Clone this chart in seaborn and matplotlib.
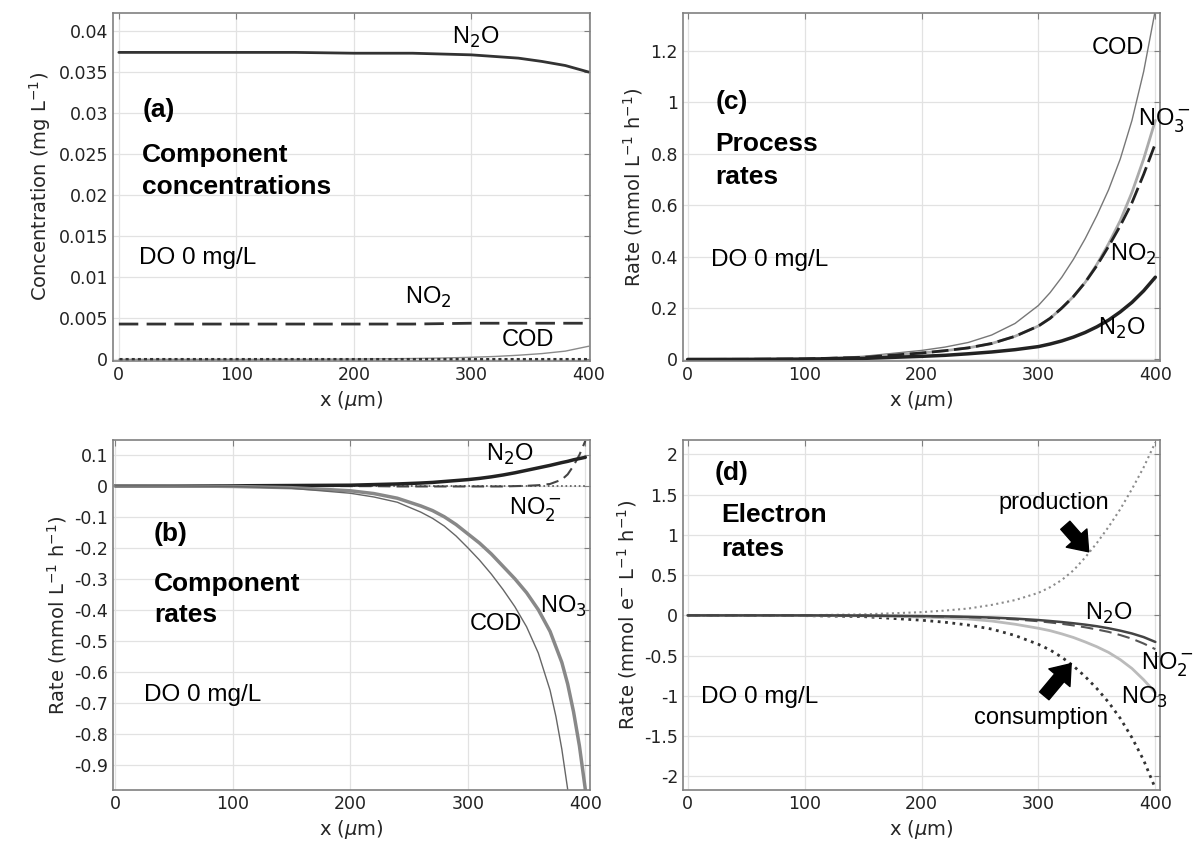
import matplotlib
matplotlib.use("Agg")
import matplotlib.pyplot as plt
from matplotlib.ticker import FuncFormatter
import seaborn as sns

# (a) component concentrations
xa = [0, 50, 100, 150, 200, 250, 275, 300, 320, 340, 360, 380, 390, 400]
a_n2o = [0.0374, 0.0374, 0.0374, 0.0374, 0.0373, 0.0373, 0.0372, 0.0371, 0.0369, 0.0367, 0.0363, 0.0358, 0.0354, 0.0350]
a_no2 = [0.0043, 0.0043, 0.0043, 0.0043, 0.0043, 0.0043, 0.00435, 0.0044, 0.0044, 0.0044, 0.0044, 0.0044, 0.0044, 0.0044]
a_cod = [0.0, 0.0, 0.0, 0.0, 0.00003, 0.0001, 0.00016, 0.00025, 0.00035, 0.0005, 0.0007, 0.001, 0.0013, 0.0016]
a_zero = [0.0, 0.0, 0.0, 0.0, 0.0, 0.0, 0.0, 0.0, 0.0, 0.0, 0.0, 0.0, 0.0, 0.0]

# (c) process rates
xc = [0, 50, 100, 150, 200, 220, 240, 260, 280, 300, 310, 320, 330, 340, 350, 360, 370, 380, 390, 400]
c_cod = [0.0, 0.001, 0.003, 0.012, 0.035, 0.048, 0.066, 0.095, 0.14, 0.21, 0.26, 0.32, 0.39, 0.47, 0.56, 0.66, 0.78, 0.93, 1.12, 1.36]
c_no3 = [0.0, 0.0005, 0.002, 0.008, 0.025, 0.034, 0.045, 0.062, 0.09, 0.13, 0.16, 0.2, 0.245, 0.3, 0.37, 0.45, 0.54, 0.65, 0.78, 0.93]
c_no2 = [0.0, 0.0005, 0.002, 0.008, 0.025, 0.034, 0.045, 0.062, 0.09, 0.13, 0.16, 0.2, 0.245, 0.3, 0.365, 0.44, 0.52, 0.61, 0.72, 0.84]
c_n2o = [0.0, 0.0002, 0.001, 0.004, 0.012, 0.016, 0.022, 0.029, 0.038, 0.05, 0.06, 0.072, 0.087, 0.105, 0.127, 0.153, 0.185, 0.222, 0.267, 0.32]

# (b) component rates
xb = [0, 50, 100, 150, 200, 220, 240, 260, 270, 280, 290, 300, 310, 320, 330, 340, 350, 360, 370, 380, 385, 390, 395, 400]
b_n2o = [0.0, 0.0, 0.0, 0.001, 0.002, 0.004, 0.006, 0.009, 0.011, 0.014, 0.017, 0.02, 0.024, 0.029, 0.035, 0.042, 0.05, 0.058, 0.066, 0.075, 0.079, 0.084, 0.088, 0.092]
b_no2 = [0.0, 0.0, 0.0, 0.0, -0.001, -0.001, -0.002, -0.002, -0.002, -0.002, -0.002, -0.002, -0.002, -0.002, -0.002, -0.001, 0.0, 0.002, 0.006, 0.02, 0.037, 0.065, 0.1, 0.145]
b_zero = [0.0, 0.0, 0.0, 0.0, 0.0, 0.0, 0.0, 0.0, 0.0, 0.0, 0.0, 0.0, 0.0, 0.0, 0.0, 0.0, 0.0, 0.0, 0.0, 0.0, 0.0, 0.0, 0.0, 0.0]
b_no3 = [0.0, 0.0, -0.002, -0.006, -0.016, -0.025, -0.04, -0.065, -0.08, -0.1, -0.125, -0.155, -0.185, -0.22, -0.26, -0.3, -0.345, -0.4, -0.47, -0.57, -0.64, -0.73, -0.84, -0.98]
xb_cod = [0, 50, 100, 150, 200, 220, 240, 260, 270, 280, 290, 300, 310, 320, 330, 340, 350, 360, 370, 375, 380, 385]
b_cod = [0.0, 0.0, -0.002, -0.008, -0.024, -0.036, -0.053, -0.085, -0.105, -0.13, -0.162, -0.2, -0.24, -0.285, -0.335, -0.39, -0.455, -0.54, -0.66, -0.745, -0.85, -0.98]

# (d) electron rates
xd = [0, 50, 100, 150, 200, 220, 240, 260, 280, 300, 310, 320, 330, 340, 350, 360, 370, 380, 390, 400]
d_prod = [0.0, 0.0, 0.002, 0.012, 0.04, 0.06, 0.085, 0.13, 0.19, 0.28, 0.35, 0.44, 0.56, 0.72, 0.9, 1.1, 1.32, 1.57, 1.84, 2.15]
d_cons = [0.0, 0.0, -0.003, -0.015, -0.06, -0.085, -0.12, -0.17, -0.25, -0.36, -0.43, -0.52, -0.63, -0.76, -0.91, -1.08, -1.28, -1.52, -1.8, -2.15]
d_n2o = [0.0, 0.0, 0.0, -0.002, -0.008, -0.012, -0.018, -0.027, -0.04, -0.058, -0.07, -0.083, -0.098, -0.115, -0.135, -0.16, -0.19, -0.225, -0.27, -0.33]
d_no2 = [0.0, 0.0, 0.0, -0.003, -0.01, -0.015, -0.022, -0.033, -0.05, -0.073, -0.088, -0.105, -0.125, -0.148, -0.175, -0.205, -0.245, -0.29, -0.35, -0.42]
d_no3 = [0.0, 0.0, -0.001, -0.005, -0.02, -0.03, -0.045, -0.07, -0.11, -0.16, -0.19, -0.23, -0.275, -0.33, -0.39, -0.46, -0.55, -0.66, -0.8, -0.96]

sns.set_style("white")
plt.rcParams["font.family"] = ["DejaVu Sans"]
plt.rcParams["axes.unicode_minus"] = False

fig = plt.figure(figsize=(11.98, 8.44), dpi=100)
ax_a = fig.add_axes([0.0943, 0.5723, 0.3982, 0.4123])
ax_c = fig.add_axes([0.5701, 0.5723, 0.3982, 0.4123])
ax_b = fig.add_axes([0.0943, 0.0640, 0.3982, 0.4147])
ax_d = fig.add_axes([0.5701, 0.0640, 0.3982, 0.4147])

LAB = "Liberation Sans"


def style(ax, xlim, ylim, yticks, ylabel):
    ax.set_xlim(xlim)
    ax.set_ylim(ylim)
    ax.set_xticks([0, 100, 200, 300, 400])
    ax.set_yticks(yticks)
    ax.yaxis.set_major_formatter(FuncFormatter(lambda v, p: f"{v:g}"))
    ax.grid(True, color="#e2e2e2", lw=0.9)
    ax.set_axisbelow(True)
    for s in ax.spines.values():
        s.set_color("#808080")
        s.set_linewidth(1.2)
    ax.tick_params(direction="in", length=4, color="#808080", top=True, right=True,
                   labelsize=12.5, labelcolor="#222222")
    ax.set_xlabel("x ($\\mu$m)", fontsize=14)
    ax.set_ylabel(ylabel, fontsize=14)


def txt(ax, x, y, s, size=17, bold=False, ha="left"):
    ax.text(x, y, s, fontsize=size, family=LAB, fontweight="bold" if bold else "normal",
            ha=ha, va="center", color="black")


# ---- (a)
sns.lineplot(x=xa, y=a_n2o, ax=ax_a, color="#333333", lw=2)
sns.lineplot(x=xa, y=a_no2, ax=ax_a, color="#333333", lw=2, linestyle=(0, (7, 3)))
sns.lineplot(x=xa, y=a_cod, ax=ax_a, color="#8a8a8a", lw=1)
sns.lineplot(x=xa, y=a_zero, ax=ax_a, color="#333333", lw=2.2, linestyle=(0, (1, 1)))
style(ax_a, (-5, 401), (-0.0002, 0.0422),
      [0, 0.005, 0.01, 0.015, 0.02, 0.025, 0.03, 0.035, 0.04], "Concentration (mg L$^{-1}$)")
txt(ax_a, 20, 0.0304, "(a)", 19, True)
txt(ax_a, 20, 0.0249, "Component", 19, True)
txt(ax_a, 20, 0.0210, "concentrations", 19, True)
txt(ax_a, 17, 0.0123, "DO 0 mg/L", 17.5)
txt(ax_a, 304, 0.0392, "N$_2$O", ha="center")
txt(ax_a, 263, 0.0076, "NO$_2$", ha="center")
txt(ax_a, 348, 0.0023, "COD", ha="center")

# ---- (c)
sns.lineplot(x=xc, y=c_cod, ax=ax_c, color="#777777", lw=1)
sns.lineplot(x=xc, y=c_no3, ax=ax_c, color="#aaaaaa", lw=2)
sns.lineplot(x=xc, y=c_no2, ax=ax_c, color="#222222", lw=2, linestyle=(0, (6, 2)))
sns.lineplot(x=xc, y=c_n2o, ax=ax_c, color="#222222", lw=2.5)
style(ax_c, (-4, 404), (-0.006, 1.348), [0, 0.2, 0.4, 0.6, 0.8, 1, 1.2],
      "Rate (mmol L$^{-1}$ h$^{-1}$)")
txt(ax_c, 24, 1.0, "(c)", 19, True)
txt(ax_c, 24, 0.84, "Process", 19, True)
txt(ax_c, 24, 0.71, "rates", 19, True)
txt(ax_c, 20, 0.386, "DO 0 mg/L", 17.5)
txt(ax_c, 368, 1.21, "COD", ha="center")
txt(ax_c, 408, 0.93, "NO$_3^-$", ha="center")
txt(ax_c, 381, 0.41, "NO$_2$", ha="center")
txt(ax_c, 371, 0.12, "N$_2$O", ha="center")

# ---- (b)
sns.lineplot(x=xb, y=b_zero, ax=ax_b, color="#555555", lw=1.2, linestyle=":")
sns.lineplot(x=xb, y=b_no2, ax=ax_b, color="#444444", lw=1.5, linestyle=(0, (6, 3)))
sns.lineplot(x=xb, y=b_n2o, ax=ax_b, color="#222222", lw=2.5)
sns.lineplot(x=xb, y=b_no3, ax=ax_b, color="#888888", lw=2.5)
sns.lineplot(x=xb_cod, y=b_cod, ax=ax_b, color="#666666", lw=1)
style(ax_b, (-2, 404), (-0.982, 0.148),
      [-0.9, -0.8, -0.7, -0.6, -0.5, -0.4, -0.3, -0.2, -0.1, 0, 0.1],
      "Rate (mmol L$^{-1}$ h$^{-1}$)")
txt(ax_b, 33, -0.155, "(b)", 19, True)
txt(ax_b, 33, -0.316, "Component", 19, True)
txt(ax_b, 33, -0.418, "rates", 19, True)
txt(ax_b, 24, -0.676, "DO 0 mg/L", 17.5)
txt(ax_b, 336, 0.10, "N$_2$O", ha="center")
txt(ax_b, 358, -0.074, "NO$_2^-$", ha="center")
txt(ax_b, 381, -0.39, "NO$_3$", ha="center")
txt(ax_b, 324, -0.445, "COD", ha="center")

# ---- (d)
sns.lineplot(x=xd, y=d_prod, ax=ax_d, color="#8c8c8c", lw=1.5, linestyle=":")
sns.lineplot(x=xd, y=d_cons, ax=ax_d, color="#333333", lw=2, linestyle=":")
sns.lineplot(x=xd, y=d_no3, ax=ax_d, color="#bbbbbb", lw=2)
sns.lineplot(x=xd, y=d_no2, ax=ax_d, color="#555555", lw=1.5, linestyle=(0, (6, 3)))
sns.lineplot(x=xd, y=d_n2o, ax=ax_d, color="#444444", lw=1.8)
style(ax_d, (-4, 404), (-2.17, 2.18), [-2, -1.5, -1, -0.5, 0, 0.5, 1, 1.5, 2],
      "Rate (mmol e$^{-}$ L$^{-1}$ h$^{-1}$)")
txt(ax_d, 23, 1.77, "(d)", 19, True)
txt(ax_d, 29, 1.25, "Electron", 19, True)
txt(ax_d, 29, 0.83, "rates", 19, True)
txt(ax_d, 11, -1.02, "DO 0 mg/L", 17.5)
txt(ax_d, 313, 1.40, "production", ha="center")
txt(ax_d, 302, -1.27, "consumption", ha="center")
txt(ax_d, 360, 0.03, "N$_2$O", ha="center")
txt(ax_d, 410, -0.6, "NO$_2^-$", ha="center")
txt(ax_d, 391, -1.02, "NO$_3$", ha="center")
arrow = dict(arrowstyle="simple,head_length=0.6,head_width=0.9,tail_width=0.4",
             color="black", shrinkA=0, shrinkB=0, mutation_scale=22)
ax_d.annotate("", xy=(343, 0.79), xytext=(323, 1.12), arrowprops=arrow)
ax_d.annotate("", xy=(328, -0.6), xytext=(305, -1.0), arrowprops=arrow)

fig.savefig("out.png", dpi=100)
